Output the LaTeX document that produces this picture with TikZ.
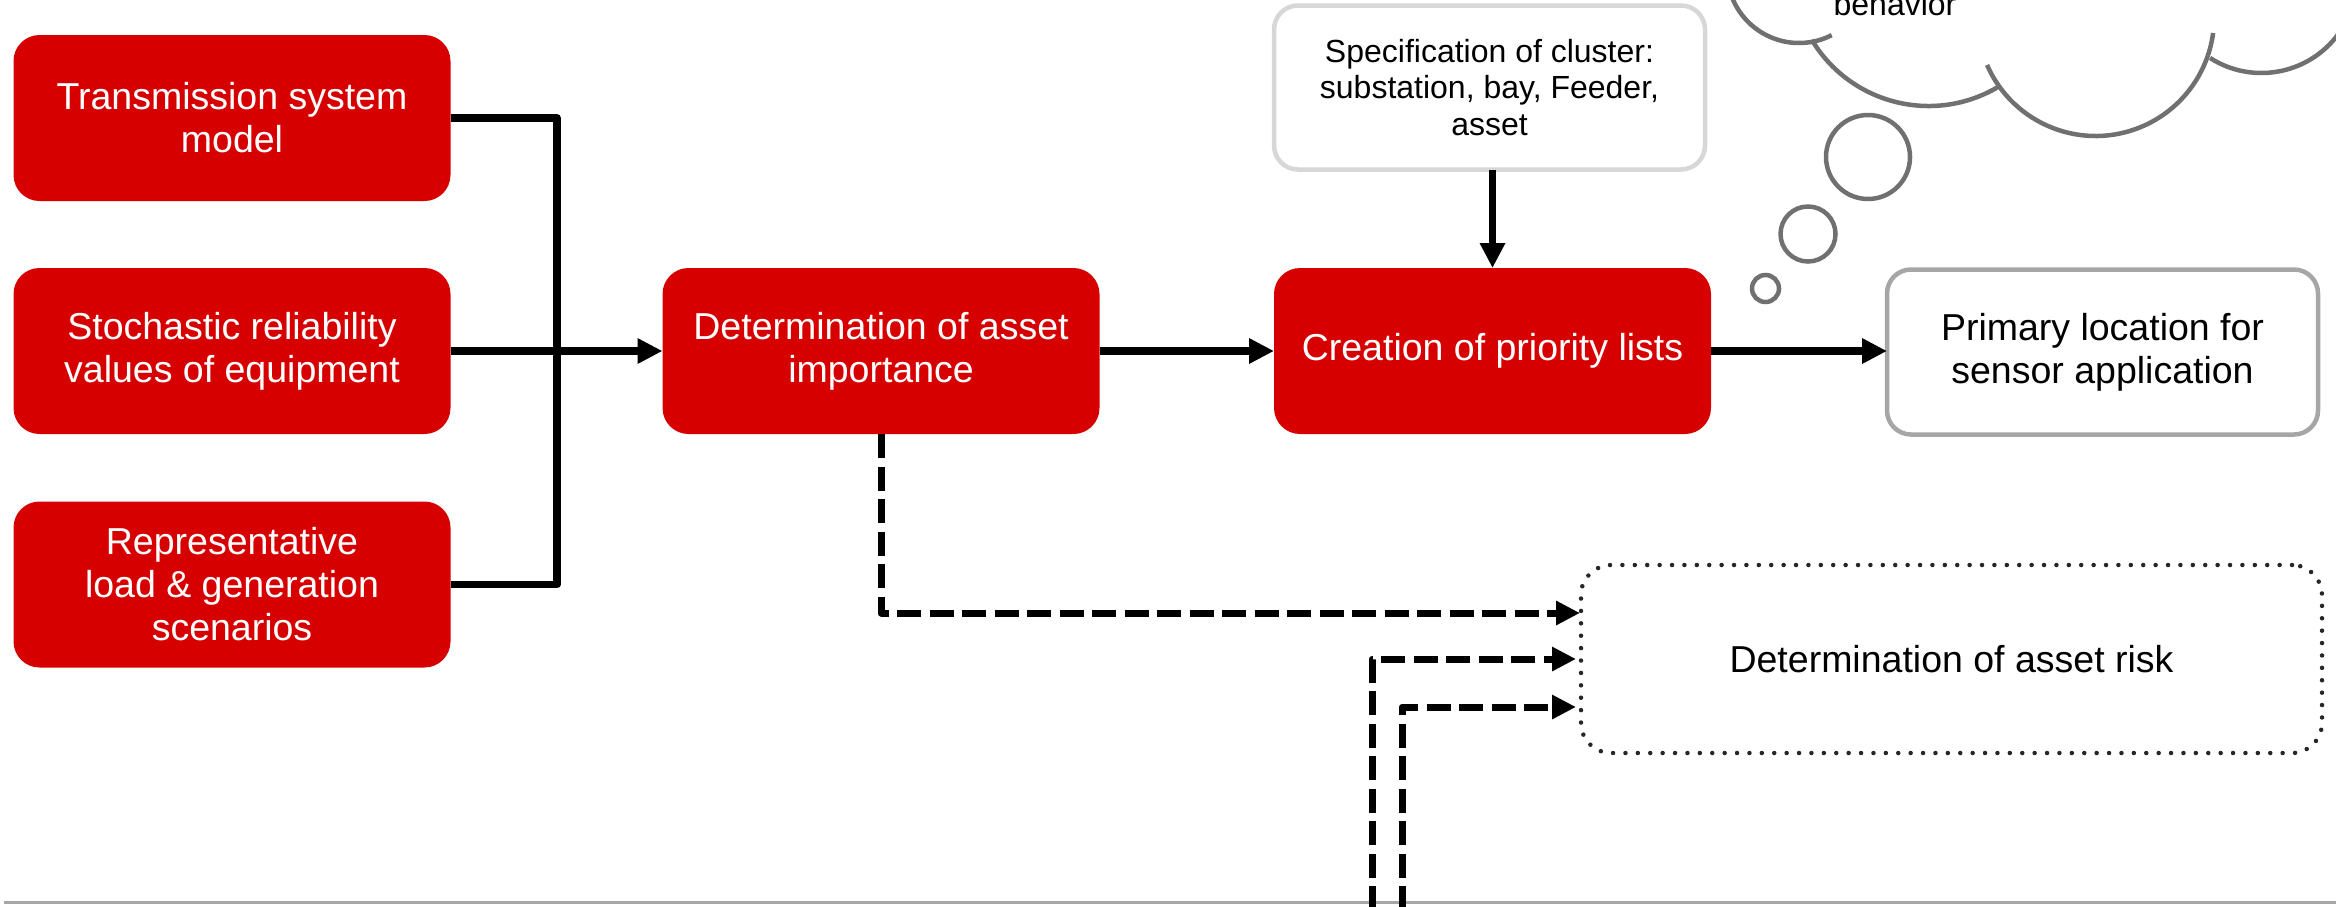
\documentclass[tikz,border=0pt]{standalone}
\usepackage{fontspec}
\setmainfont{Liberation Sans}
\usetikzlibrary{arrows.meta}
\definecolor{boxred}{RGB}{215,0,0}
\definecolor{ltgray}{RGB}{215,215,215}
\definecolor{midgray}{RGB}{166,166,166}
\definecolor{cloudgray}{RGB}{112,112,112}
\definecolor{dotgray}{RGB}{38,38,38}
\begin{document}
\begin{tikzpicture}[x=1pt,y=-1pt,
  redbox/.style={rectangle, rounded corners=26pt, fill=boxred, draw=none, text=white,
    align=center, inner sep=0pt, outer sep=0pt, minimum width=437pt, minimum height=166pt,
    font=\fontsize{37.5}{43}\selectfont},
  whitebox/.style={rectangle, rounded corners=24pt, fill=white, draw=midgray, line width=4.5pt,
    text=black, align=center, inner sep=0pt, outer sep=0pt,
    font=\fontsize{37.5}{43}\selectfont},
  specbox/.style={rectangle, rounded corners=24pt, fill=white, draw=ltgray, line width=4.5pt,
    text=black, align=center, inner sep=0pt, outer sep=0pt,
    font=\fontsize{32}{36.5}\selectfont},
  riskbox/.style={rectangle, rounded corners=30pt, draw=dotgray, line width=4.5pt,
    dash pattern=on 0pt off 12.4pt, line cap=round, text=black, align=center,
    inner sep=0pt, outer sep=0pt, font=\fontsize{37.5}{43}\selectfont},
  solidline/.style={line width=7.5pt, line join=round},
  conn/.style={solidline, -{Triangle[length=25pt,width=24pt]}},
  dashconn/.style={line width=7pt, line join=round, dash pattern=on 24pt off 8.5pt,
    -{Triangle[length=24pt,width=23pt]}},
  cloudline/.style={draw=cloudgray, line width=4.5pt},
]
\useasboundingbox (0,0) rectangle (2336,906);
\clip (0,0) rectangle (2336,906);

% bottom rule
\coordinate (rl) at (4,902);
\coordinate (rr) at (2336,902);
\draw[midgray, line width=3pt] (rl) -- (rr);

% left input boxes
\node[redbox] (tsm) at (232,118) {Transmission system\\model};
\node[redbox] (sto) at (232,351) {Stochastic reliability\\values of equipment};
\node[redbox] (rep) at (232,584.5) {Representative\\load \& generation\\scenarios};

% process boxes
\node[redbox] (imp) at (881,351) {Determination of asset\\importance};
\node[redbox] (prio) at (1492.5,351) {Creation of priority lists};
\node[whitebox, minimum width=431pt, minimum height=165pt] (prim) at (2102.5,352)
  {Primary location for\\sensor application};
\node[specbox, minimum width=431pt, minimum height=164pt] (spec) at (1489.5,87.5)
  {Specification of cluster:\\substation, bay, Feeder,\\asset};
\node[riskbox, minimum width=741pt, minimum height=188pt] (risk) at (1951.5,659)
  {Determination of asset risk};

% solid connectors
\coordinate (jn) at (557,351);
\draw[solidline] (tsm.east) -| (jn);
\draw[solidline] (rep.east) -| (jn);
\draw[conn] (sto.east) -- (imp.west);
\draw[conn] (imp.east) -- (prio.west);
\draw[conn] (prio.east) -- (prio.east -| prim.west);
\draw[conn] (prio.north |- spec.south) -- (prio.north);

% dashed connectors
\coordinate (d2) at (1372,910);
\coordinate (d3) at (1402,910);
\draw[dashconn] (imp.south) |- ([yshift=46pt,xshift=-1pt]risk.west);
\draw[dashconn] (d2) |- ([xshift=-5pt]risk.west);
\draw[dashconn] (d3) |- ([yshift=-48pt,xshift=-5pt]risk.west);

% thought cloud (partly outside the frame)
\draw[cloudline] (1799,-29) ++(195:72pt) arc[start angle=195, end angle=297, radius=72pt];
\draw[cloudline] (1928.6,-30.2) ++(211:136.2pt) arc[start angle=211, end angle=300.6, radius=136.2pt];
\draw[cloudline] (2095.6,17.5) ++(203.6:118.5pt) arc[start angle=203.6, end angle=352.5, radius=118.5pt];
\draw[cloudline] (2261.4,-22.4) ++(237.4:95.4pt) arc[start angle=237.4, end angle=370, radius=95.4pt];
\node[anchor=base, inner sep=0pt, font=\fontsize{32}{36.5}\selectfont] (beh) at (1895,15) {behavior};

% thought bubbles
\draw[cloudline] (1868,157) circle[radius=42pt];
\draw[cloudline] (1808,234) circle[radius=27.5pt];
\draw[cloudline] (1765.5,288.5) circle[radius=13.5pt];
\end{tikzpicture}
\end{document}
